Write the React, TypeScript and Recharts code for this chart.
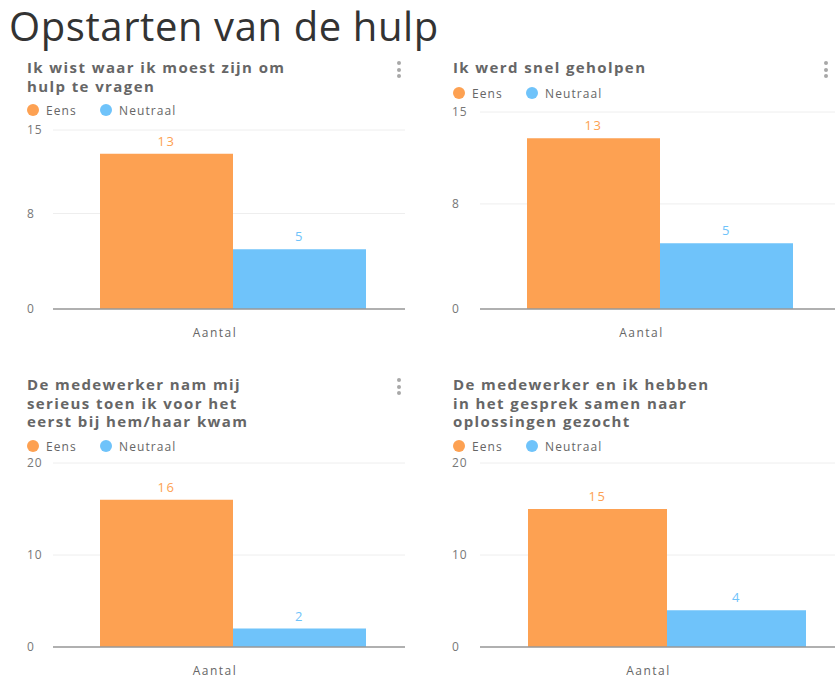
import { BarChart, Bar, XAxis, YAxis, CartesianGrid, LabelList } from 'recharts';

const seriesNames = ['Eens', 'Neutraal'];
const seriesKeys = ['eens', 'neutraal'];
const seriesColors = ['#FDA152', '#6FC3FA'];
const category = 'Aantal';
const pageTitle = 'Opstarten van de hulp';
const questions = [
  ['Ik wist waar ik moest zijn om', 'hulp te vragen'],
  ['Ik werd snel geholpen'],
  ['De medewerker nam mij', 'serieus toen ik voor het', 'eerst bij hem/haar kwam'],
  ['De medewerker en ik hebben', 'in het gesprek samen naar', 'oplossingen gezocht'],
];
const eensCounts = [13, 13, 16, 15];
const neutraalCounts = [5, 5, 2, 4];
const axisMax = [15, 15, 20, 20];
const axisTicks = [
  [0, 8, 15],
  [0, 8, 15],
  [0, 10, 20],
  [0, 10, 20],
];

// where each panel sits on the page
const layouts = [
  { titleX: 27, titleY: 58, legendX: 27, legendY: 110, menuX: 399, menuY: 63, left: 0, top: 120, width: 405, plotTop: 130, plotBottom: 309, yAxisW: 53, tickX: 27, padLeft: 8, gap: 39 },
  { titleX: 453, titleY: 58, legendX: 453, legendY: 93, menuX: 826, menuY: 63, left: 420, top: 100, width: 415, plotTop: 112, plotBottom: 309, yAxisW: 60, tickX: 32, padLeft: 4, gap: 43 },
  { titleX: 27, titleY: 375, legendX: 27, legendY: 446, menuX: 399, menuY: 380, left: 0, top: 455, width: 405, plotTop: 463, plotBottom: 647, yAxisW: 53, tickX: 27, padLeft: 8, gap: 39 },
  { titleX: 453, titleY: 375, legendX: 453, legendY: 446, menuX: null, menuY: 0, left: 420, top: 455, width: 433, plotTop: 463, plotBottom: 647, yAxisW: 60, tickX: 32, padLeft: 0, gap: 48 },
];

const FONT = '"Open Sans", sans-serif';
const X_AXIS_H = 30;

function Menu({ x, y }: { x: number; y: number }) {
  return (
    <>
      {[0, 6.5, 13].map((d) => (
        <div
          key={d}
          style={{ position: 'absolute', left: x - 2, top: y + d - 2, width: 4, height: 4, borderRadius: 2, background: '#a8a8a8' }}
        />
      ))}
    </>
  );
}

function LegendRow({ x, y }: { x: number; y: number }) {
  const offsets = [0, 73];
  return (
    <>
      {seriesNames.map((name, i) => (
        <div key={name} style={{ position: 'absolute', left: x + offsets[i], top: y - 9, height: 18, display: 'flex', alignItems: 'center' }}>
          <span style={{ width: 12, height: 12, borderRadius: 6, background: seriesColors[i], display: 'inline-block' }} />
          <span style={{ marginLeft: 7, fontSize: 12, letterSpacing: 1.1, color: '#666', fontFamily: FONT }}>{name}</span>
        </div>
      ))}
    </>
  );
}

function Panel({ idx }: { idx: number }) {
  const l = layouts[idx];
  const data = [{ name: category, eens: eensCounts[idx], neutraal: neutraalCounts[idx] }];
  const height = l.plotBottom - l.top + 40;
  const margin = {
    top: l.plotTop - l.top,
    right: 0,
    left: 0,
    bottom: height - (l.plotBottom - l.top) - X_AXIS_H,
  };
  return (
    <>
      <div
        style={{
          position: 'absolute',
          left: l.titleX,
          top: l.titleY,
          fontFamily: FONT,
          fontWeight: 700,
          fontSize: 15,
          letterSpacing: 1.4,
          lineHeight: '18.5px',
          color: '#666',
          whiteSpace: 'nowrap',
        }}
      >
        {questions[idx].map((line) => (
          <div key={line}>{line}</div>
        ))}
      </div>
      {l.menuX !== null && <Menu x={l.menuX} y={l.menuY} />}
      <LegendRow x={l.legendX} y={l.legendY} />
      <div style={{ position: 'absolute', left: l.left, top: l.top }}>
        <BarChart width={l.width} height={height} data={data} margin={margin} barGap={0} barCategoryGap={l.gap}>
          <CartesianGrid horizontal vertical={false} stroke="#eeeeee" />
          <XAxis
            dataKey="name"
            height={X_AXIS_H}
            padding={{ left: l.padLeft, right: 0 }}
            axisLine={{ stroke: '#999', strokeWidth: 1.5 }}
            tickLine={false}
            tick={(p: any) => (
              <text x={p.x - 18} y={p.y + 4} dy={16} textAnchor="middle" fill="#666" fontSize={12} letterSpacing={1.5} fontFamily={FONT}>
                {p.payload.value}
              </text>
            )}
          />
          <YAxis
            domain={[0, axisMax[idx]]}
            ticks={axisTicks[idx]}
            interval={0}
            width={l.yAxisW}
            axisLine={false}
            tickLine={false}
            tick={(p: any) => (
              <text x={l.tickX} y={p.y} dy={4} textAnchor="start" fill="#777" fontSize={12} letterSpacing={1} fontFamily={FONT}>
                {p.payload.value}
              </text>
            )}
          />
          {seriesKeys.map((k, i) => (
            <Bar key={k} dataKey={k} name={seriesNames[i]} fill={seriesColors[i]} isAnimationActive={false}>
              <LabelList dataKey={k} position="top" offset={8} fill={seriesColors[i]} fontSize={13} letterSpacing={1.5} fontFamily={FONT} />
            </Bar>
          ))}
        </BarChart>
      </div>
    </>
  );
}

export default function App() {
  return (
    <div style={{ position: 'absolute', left: 0, top: 0, width: 835, height: 677, overflow: 'hidden', background: '#fff' }}>
      <div
        style={{
          position: 'absolute',
          left: 9,
          top: 0,
          fontFamily: FONT,
          fontSize: 40,
          letterSpacing: 0.6,
          lineHeight: '52px',
          color: '#333',
          whiteSpace: 'nowrap',
        }}
      >
        {pageTitle}
      </div>
      {questions.map((_, i) => (
        <Panel key={i} idx={i} />
      ))}
    </div>
  );
}
